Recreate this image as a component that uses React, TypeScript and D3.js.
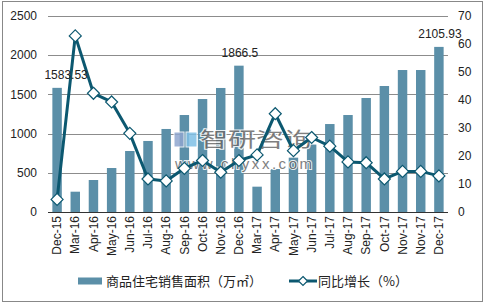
import React from "react";
import * as d3 from "d3";

const categories = ["Dec-15","Mar-16","Apr-16","May-16","Jun-16","Jul-16","Aug-16","Sep-16","Oct-16","Nov-16","Dec-16","Mar-17","Apr-17","May-17","Jun-17","Jul-17","Aug-17","Sep-17","Oct-17","Nov-17","Nov-17","Dec-17"];
const salesArea = [1583.53, 259, 408, 561, 778, 906, 1059, 1237, 1441, 1582, 1866.5, 323, 548, 693, 860, 1122, 1237, 1454, 1607, 1811, 1811, 2105.93];
const growth = [4.5, 62.9, 42.4, 39.3, 28.1, 11.8, 11.1, 15.6, 18.4, 14.2, 18.4, 20.4, 35.1, 21.9, 26.6, 23.5, 17.9, 17.6, 11.8, 14.5, 14.5, 12.9];
const leftTicks = [0, 500, 1000, 1500, 2000, 2500];
const rightTicks = [0, 10, 20, 30, 40, 50, 60, 70];
const labeled = [0, 10, 21];
const legendBar = "商品住宅销售面积（万㎡）";
const legendLine = "同比增长（%）";

const W = 486, H = 305;
const plot = { left: 48, right: 448, top: 16, bottom: 212 };
const BAR = "#5b8fa8";
const LINE = "#0c5870";
const FONT = "'Liberation Sans', Arial, 'Noto Sans CJK SC', sans-serif";

export default function App() {
  const x = d3.scaleBand<number>().domain(categories.map((_, i) => i)).range([plot.left, plot.right]).paddingInner(0.48).paddingOuter(0.24);
  const yL = d3.scaleLinear().domain([0, 2500]).range([plot.bottom, plot.top]);
  const yR = d3.scaleLinear().domain([0, 70]).range([plot.bottom, plot.top]);
  const cx = (i: number) => (x(i) as number) + x.bandwidth() / 2;
  const line = d3.line<number>().x((_, i) => cx(i)).y((d) => yR(d));
  const diamond = (px: number, py: number, r: number) => `M${px},${py - r}L${px + r},${py}L${px},${py + r}L${px - r},${py}Z`;

  return (
    <svg width={W} height={H} style={{ position: "absolute", left: 0, top: 0, fontFamily: FONT }}>
      <rect x={0} y={0} width={W} height={H} fill="#fff" />
      <rect x={2.5} y={1.5} width={480} height={300} fill="none" stroke="#888" strokeWidth={1} />
      {leftTicks.filter((t) => t > 0).map((t) => (
        <line key={t} x1={plot.left} x2={plot.right} y1={Math.round(yL(t)) + 0.5} y2={Math.round(yL(t)) + 0.5} stroke="#8c8c8c" strokeWidth={1} />
      ))}
      {leftTicks.map((t) => (
        <text key={t} x={37} y={yL(t)} dy="0.35em" textAnchor="end" fontSize={12} fill="#222">{t}</text>
      ))}
      {rightTicks.map((t) => (
        <text key={t} x={458} y={yR(t)} dy="0.35em" textAnchor="start" fontSize={12} fill="#222">{t}</text>
      ))}
      {salesArea.map((v, i) => (
        <rect key={i} x={x(i)} y={yL(v)} width={x.bandwidth()} height={plot.bottom - yL(v)} fill={BAR} />
      ))}
      <line x1={plot.left} x2={plot.right} y1={plot.bottom + 0.5} y2={plot.bottom + 0.5} stroke="#333" strokeWidth={1} />
      {/* watermark */}
      <g opacity={0.85}>
        <rect x={174} y={132} width={10} height={15} fill="#8fa6cf" stroke="#fff" strokeWidth={1} />
        <rect x={186} y={132} width={11} height={15} fill="#7fc0e6" stroke="#fff" strokeWidth={1} />
        <text x={200} y={147} fontSize={20} textLength={112} lengthAdjust="spacingAndGlyphs" fill="#6a6a6a" stroke="#fff" strokeWidth={2} paintOrder="stroke" fontFamily="'Noto Sans CJK SC', sans-serif">智研咨询</text>
        <text x={175} y={169} fontSize={15} textLength={137} lengthAdjust="spacing" fill="#6a6a6a" stroke="#fff" strokeWidth={2} paintOrder="stroke">www.chyxx.com</text>
      </g>
      <path d={line(growth) as string} fill="none" stroke={LINE} strokeWidth={3} strokeLinejoin="round" />
      {growth.map((v, i) => (
        <path key={i} d={diamond(cx(i), yR(v), 6)} fill="#fff" stroke={LINE} strokeWidth={1.2} />
      ))}
      {labeled.map((i) => (
        <text key={i} x={cx(i) + (i === 0 ? 9 : 1)} y={yL(salesArea[i]) - 9} textAnchor="middle" fontSize={12} fill="#222">{String(salesArea[i])}</text>
      ))}
      {categories.map((c, i) => (
        <text key={i} transform={`translate(${cx(i)},216) rotate(-90)`} dy="0.35em" textAnchor="end" fontSize={12} fill="#222">{c}</text>
      ))}
      {/* legend */}
      <rect x={78} y={277.5} width={24} height={7} fill={BAR} />
      <text x={106} y={281} dy="0.35em" fontSize={13} fill="#222" fontFamily="'Noto Sans CJK SC', sans-serif">{legendBar}</text>
      <line x1={289} x2={317} y1={281} y2={281} stroke={LINE} strokeWidth={3} />
      <path d={diamond(303, 281, 4.5)} fill="#fff" stroke={LINE} strokeWidth={1.2} />
      <text x={318} y={281} dy="0.35em" fontSize={13} fill="#222" fontFamily="'Noto Sans CJK SC', sans-serif">{legendLine}</text>
    </svg>
  );
}
